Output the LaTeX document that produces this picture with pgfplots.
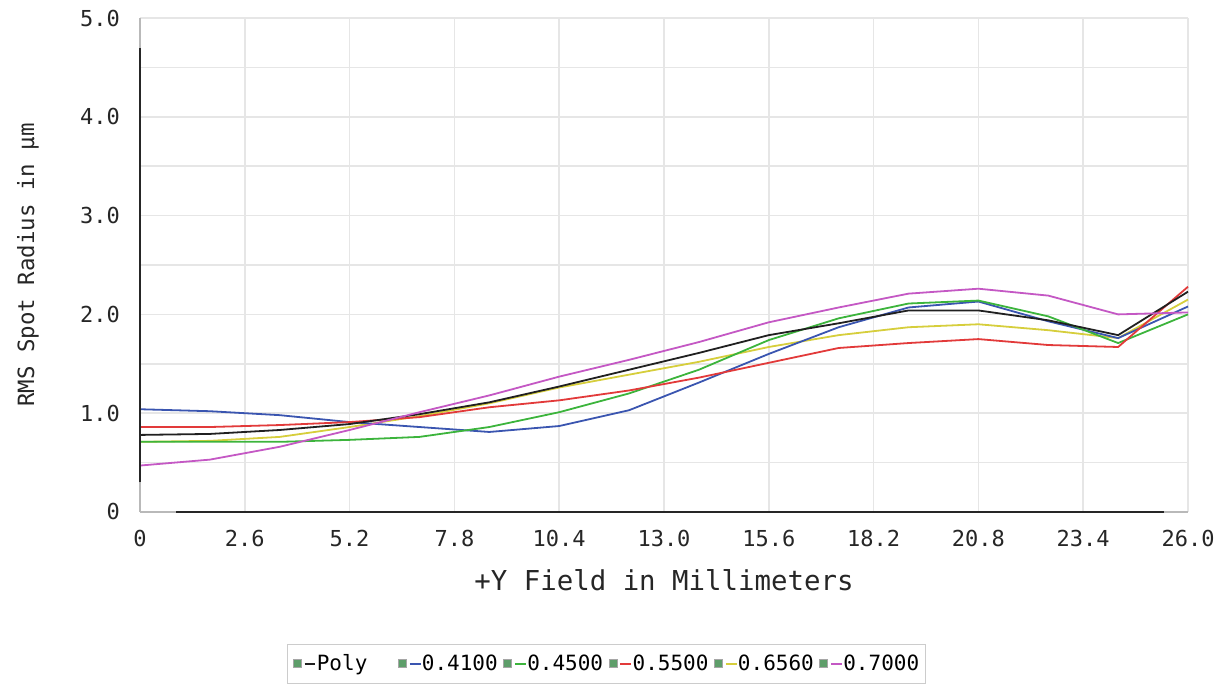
\documentclass[border=0pt]{standalone}
\usepackage{fontspec}
\setmainfont{DejaVu Sans Mono}
\usepackage{pgfplots}
\pgfplotsset{compat=1.18}
\usepackage{pgfplotstable}
\usetikzlibrary{calc}
\definecolor{cpoly}{HTML}{202020}
\definecolor{c410}{HTML}{3A55B0}
\definecolor{c450}{HTML}{3CB43C}
\definecolor{c550}{HTML}{E23A3A}
\definecolor{c656}{HTML}{D6CE3C}
\definecolor{c700}{HTML}{C458C4}
\definecolor{gridc}{HTML}{E6E6E6}
\definecolor{boxg}{HTML}{5E9E6A}

% field (mm), then RMS radius per wavelength
\pgfplotstableread{
x        poly  w41   w45   w55   w656  w70
0        0.78  1.04  0.71  0.86  0.71  0.47
1.7333   0.79  1.02  0.71  0.86  0.72  0.53
3.4667   0.83  0.98  0.71  0.88  0.76  0.66
5.2      0.89  0.91  0.73  0.91  0.86  0.83
6.9333   0.99  0.86  0.76  0.96  0.97  1.01
8.6667   1.11  0.81  0.86  1.06  1.10  1.18
10.4     1.27  0.87  1.01  1.13  1.26  1.37
12.1333  1.44  1.03  1.20  1.23  1.39  1.54
13.8667  1.61  1.31  1.44  1.36  1.52  1.72
15.6     1.79  1.60  1.74  1.51  1.67  1.92
17.3333  1.91  1.87  1.96  1.66  1.79  2.07
19.0667  2.04  2.07  2.11  1.71  1.87  2.21
20.8     2.04  2.13  2.14  1.75  1.90  2.26
22.5333  1.94  1.93  1.98  1.69  1.84  2.19
24.2667  1.79  1.76  1.71  1.67  1.76  2.00
26       2.23  2.08  2.00  2.28  2.15  2.02
}\spotdata

\newcommand{\gap}[1]{\rule{#1}{0pt}}

\pgfplotsset{
  spotlegend/.style={
    legend columns=6,
    legend style={at={(axis description cs:0.445,0)}, anchor=center, yshift=-76pt,
      draw=gray!40, font=\fontsize{10.5}{12}\selectfont,
      inner xsep=3pt, inner ysep=3pt,
      nodes={inner xsep=0.3pt},
      /tikz/every even column/.append style={column sep=0pt},
      /tikz/every odd column/.append style={column sep=0pt}},
    legend image code/.code={
      \draw[draw=gray!70, fill=boxg, line width=0.5pt]
        (1pt,-2pt) rectangle (5pt,2.2pt);
      \draw[##1, line width=0.8pt] (6.6pt,0pt) -- (12pt,0pt);
    },
  },
}

\begin{document}
\begin{tikzpicture}
\begin{axis}[
  scale only axis,
  width=524pt, height=247pt,
  xmin=0, xmax=26, ymin=0, ymax=5,
  clip=false,
  axis x line*=bottom, axis y line*=left,
  axis line style={gray!55, line width=1pt},
  xtick={0,2.6,5.2,7.8,10.4,13,15.6,18.2,20.8,23.4,26},
  xticklabels={0,2.6,5.2,7.8,10.4,13.0,15.6,18.2,20.8,23.4,26.0},
  ytick={0,1,2,3,4,5},
  yticklabels={0,1.0,2.0,3.0,4.0,5.0},
  minor ytick={0.5,1.5,2.5,3.5,4.5},
  major tick length=0pt, minor tick length=0pt,
  grid=both,
  major grid style={gridc, line width=0.8pt},
  minor grid style={gridc, line width=0.8pt},
  tick label style={font=\fontsize{11}{13}\selectfont, text=black!85},
  xticklabel style={anchor=base, yshift=-17.5pt},
  yticklabel style={anchor=east, xshift=-6.5pt},
  xlabel={+Y Field in Millimeters},
  ylabel={RMS Spot Radius in µm},
  xlabel style={font=\fontsize{13.7}{16}\selectfont, text=black!85,
    at={(axis description cs:0.5,0)}, anchor=center, yshift=-34pt},
  ylabel style={font=\fontsize{11.2}{13}\selectfont, text=black!85,
    at={(axis description cs:0,0.5)}, anchor=center, yshift=56pt},
  every axis plot/.append style={line width=0.9pt},
]
\addplot[c656] table[x=x, y=w656] {\spotdata};
\addplot[c410] table[x=x, y=w41] {\spotdata};
\addplot[c450] table[x=x, y=w45] {\spotdata};
\addplot[c550] table[x=x, y=w55] {\spotdata};
\addplot[cpoly] table[x=x, y=poly] {\spotdata};
\addplot[c700] table[x=x, y=w70] {\spotdata};
% dark parts of the axis lines
\draw[black!85, line width=1.4pt] (axis cs:0.9,0) -- (axis cs:25.4,0);
\draw[black!85, line width=1.4pt] (axis cs:0,0.3) -- (axis cs:0,4.7);
\end{axis}
% legend drawn in the reference order
\begin{axis}[
  scale only axis, width=524pt, height=247pt,
  xmin=0, xmax=26, ymin=0, ymax=5,
  hide axis, spotlegend,
]
\addlegendimage{cpoly}\addlegendentry{Poly\gap{15pt}}
\addlegendimage{c410}\addlegendentry{0.4100\gap{2.5pt}}
\addlegendimage{c450}\addlegendentry{0.4500\gap{2.5pt}}
\addlegendimage{c550}\addlegendentry{0.5500\gap{2.5pt}}
\addlegendimage{c656}\addlegendentry{0.6560\gap{2.5pt}}
\addlegendimage{c700}\addlegendentry{0.7000}
\end{axis}
\path ($(current axis.south west)+(-70pt,-93pt)$) rectangle ($(current axis.north east)+(18.5pt,9pt)$);
\end{tikzpicture}
\end{document}
